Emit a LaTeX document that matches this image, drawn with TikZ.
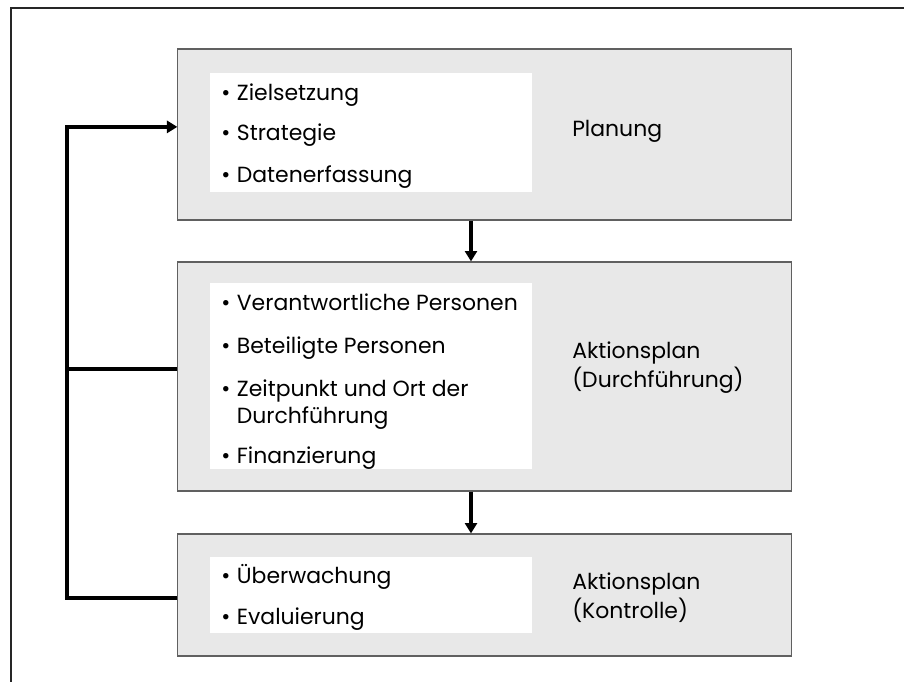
\documentclass[tikz,border=0pt]{standalone}
\usepackage{fontspec}
\setmainfont{Poppins}
\usetikzlibrary{arrows.meta}
\definecolor{boxgrau}{RGB}{232,232,232}
\definecolor{randgrau}{RGB}{96,96,96}
\newcommand{\punkt}{•\hspace{0.3em}}

\begin{document}
\begin{tikzpicture}[
    x=0.025cm, y=-0.025cm,
    phase/.style={rectangle,draw=randgrau,fill=boxgrau,line width=0.8pt,
      minimum width=15.325cm,inner sep=0pt},
    liste/.style={rectangle,fill=white,minimum width=8.05cm,inner sep=0pt},
    eintrag/.style={anchor=base west,inner sep=0pt,align=left,
      font=\fontsize{15.6}{19.9}\selectfont},
    titel/.style={anchor=base west,inner sep=0pt,align=left,
      font=\fontsize{15.6}{21.3}\selectfont},
    arrow/.style={-{Triangle[length=2.6mm,width=3mm]},line width=2.6pt}
  ]
    \useasboundingbox (0,0) rectangle (904,682);
    \draw[line width=0.8pt,black!85] (11,682) -- (11,8) -- (904,8);

    % the three phases
    \node[phase,minimum height=4.275cm] (planung) at (484.5,134.5) {};
    \node[phase,minimum height=5.725cm] (durchf) at (484.5,376.5) {};
    \node[phase,minimum height=3.05cm] (kontrolle) at (484.5,595) {};

    \node[liste,minimum height=2.975cm] (planungListe) at (371,132.5) {};
    \node[liste,minimum height=4.65cm] (durchfListe) at (371,376) {};
    \node[liste,minimum height=1.9cm] (kontrolleListe) at (371,595) {};

    % bullet items (base = last line)
    \node[eintrag] (ziel) at (221,101) {\punkt Zielsetzung};
    \node[eintrag] (strat) at (221,141) {\punkt Strategie};
    \node[eintrag] (daten) at (221,183) {\punkt Datenerfassung};

    \node[eintrag] (verant) at (221,311) {\punkt Verantwortliche Personen};
    \node[eintrag] (beteil) at (221,354) {\punkt Beteiligte Personen};
    \node[eintrag] (zeit) at (221,424) {\punkt Zeitpunkt und Ort der\\\hphantom{\punkt}Durchführung};
    \node[eintrag] (finanz) at (221,464) {\punkt Finanzierung};

    \node[eintrag] (ueberw) at (221,584) {\punkt Überwachung};
    \node[eintrag] (eval) at (221,625) {\punkt Evaluierung};

    % phase titles
    \node[titel] (planungTitel) at (572,137) {Planung};
    \node[titel] (durchfTitel) at (572,388) {Aktionsplan\\(Durchführung)};
    \node[titel] (kontrolleTitel) at (572,619) {Aktionsplan\\(Kontrolle)};

    % connectors
    \coordinate (pfeilx) at (471,0);
    \coordinate (rueck) at (67,0);
    \coordinate (kAus) at ([yshift=-0.075cm]kontrolle.west);
    \coordinate (dAus) at ([yshift=0.19cm]durchf.west);
    \coordinate (pEin) at ([yshift=0.19cm]planung.west);
    \draw[arrow] (planung.south -| pfeilx) -- (durchf.north -| pfeilx);
    \draw[arrow] (durchf.south -| pfeilx) -- (kontrolle.north -| pfeilx);
    \draw[arrow] (kAus) -- (rueck |- kAus) -- (rueck |- pEin) -- (pEin);
    \draw[line width=2.6pt] (dAus) -- (rueck |- dAus);
\end{tikzpicture}
\end{document}
